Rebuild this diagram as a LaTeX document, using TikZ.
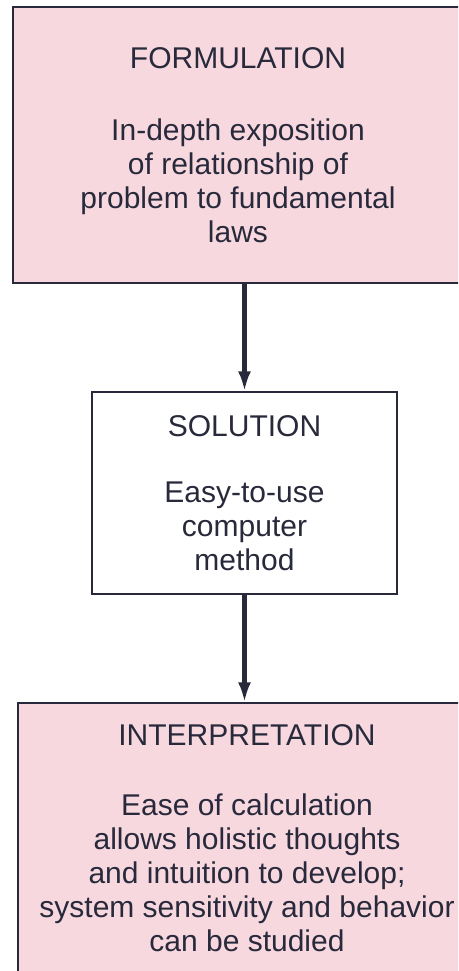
\documentclass[tikz,border=0pt]{standalone}
\usepackage{fontspec}
\setmainfont{Liberation Sans}
\usetikzlibrary{arrows.meta}
\definecolor{boxpink}{RGB}{248,216,223}
\definecolor{inkdark}{RGB}{40,42,60}
\begin{document}
\begin{tikzpicture}[x=1pt,y=1pt]
	\tikzset{every node/.style={font=\fontsize{30}{34}\selectfont,text=inkdark,align=center}}
	\tikzset{stage/.style={draw=inkdark,line width=1.3pt,inner sep=0pt}}
	\tikzset{flow/.style={draw=inkdark,line width=4.5pt,-{Latex[length=20pt,width=13pt]}}}
	\useasboundingbox (0,0) rectangle (458,-971);
	\clip (0,0) rectangle (458,-971);
	% boxes (the pink ones run past the right edge)
	\node[stage,fill=boxpink,minimum width=500,minimum height=276] (formulation) at (263,-145) {};
	\node[stage,fill=white,minimum width=305,minimum height=202] (solution) at (244.5,-493) {};
	\node[stage,fill=boxpink,minimum width=500,minimum height=300] (interpretation) at (268,-853) {};
	% texts
	\node (formulationtext) at (238,-145)
		{FORMULATION\\[38pt] In-depth exposition\\ of relationship of\\ problem to fundamental\\ laws};
	\node (solutiontext) at (solution)
		{SOLUTION\\[32pt] Easy-to-use\\ computer\\ method};
	\node (interpretationtext) at (247,-838)
		{INTERPRETATION\\[36pt] Ease of calculation\\ allows holistic thoughts\\ and intuition to develop;\\ system sensitivity and behavior\\ can be studied};
	\draw[flow] (formulation.south -| solution.north) -- (solution.north);
	\draw[flow] (solution.south) -- (solution.south |- interpretation.north);
\end{tikzpicture}
\end{document}
